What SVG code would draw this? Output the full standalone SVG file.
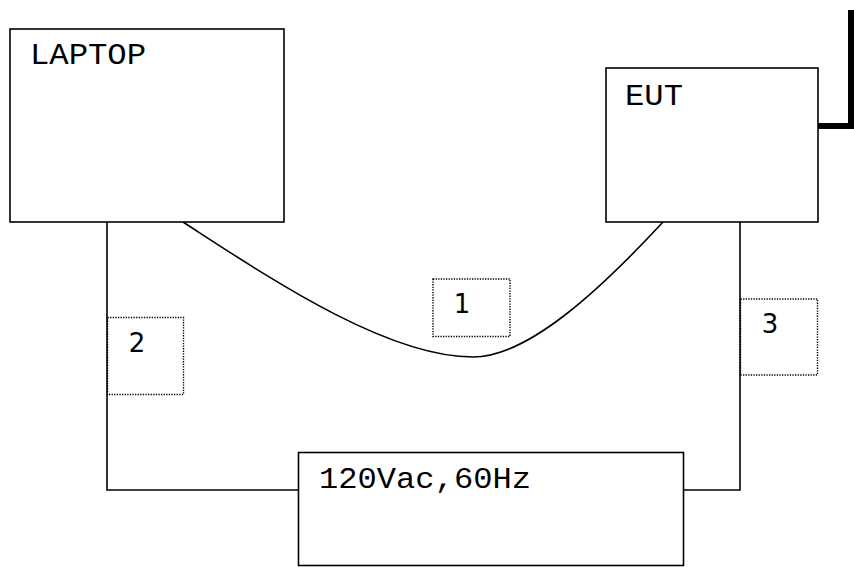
<svg xmlns="http://www.w3.org/2000/svg" width="854" height="567" viewBox="0 0 854 567">
<style>
.box{fill:#fff;stroke:#000;stroke-width:1.6}
.lbl{font-family:"Liberation Mono","Courier New",monospace;font-size:30px;fill:#000}
.tag{fill:none;stroke:#000;stroke-width:1.4;stroke-dasharray:1.3 1.3}
.num{font-family:"DejaVu Sans",Verdana,sans-serif;font-size:26px;fill:#000;text-anchor:middle}
.wire{fill:none;stroke:#000;stroke-width:1.6}
</style>
<rect width="854" height="567" fill="#fff"/>
<g id="connectors">
<path class="wire" d="M183,222 C265,275 385,357 473,357 C528,357 600,290 663,222"/>
<polyline class="wire" points="107,222 107,490 298,490"/>
<polyline class="wire" points="740,222 740,490 683,490"/>
<polyline fill="none" stroke="#000" stroke-width="6" points="818,126 851,126 851,10"/>
</g>
<g id="laptop">
<rect class="box" x="10" y="29" width="274" height="193"/>
<text class="lbl" x="30" y="64" textLength="116" lengthAdjust="spacingAndGlyphs">LAPTOP</text>
</g>
<g id="eut">
<rect class="box" x="606" y="68" width="212" height="154"/>
<text class="lbl" x="625" y="105" textLength="58" lengthAdjust="spacingAndGlyphs">EUT</text>
</g>
<g id="power">
<rect class="box" x="298.5" y="452.5" width="385" height="113"/>
<text class="lbl" x="319" y="488" textLength="212" lengthAdjust="spacingAndGlyphs">120Vac,60Hz</text>
</g>
<g id="tag1">
<rect class="tag" x="433" y="279" width="77" height="57.5"/>
<text class="num" x="462" y="313">1</text>
</g>
<g id="tag2">
<rect class="tag" x="107.5" y="317.5" width="76" height="77"/>
<text class="num" x="137" y="352">2</text>
</g>
<g id="tag3">
<rect class="tag" x="740.5" y="299" width="77" height="76"/>
<text class="num" x="770" y="333">3</text>
</g>
</svg>
